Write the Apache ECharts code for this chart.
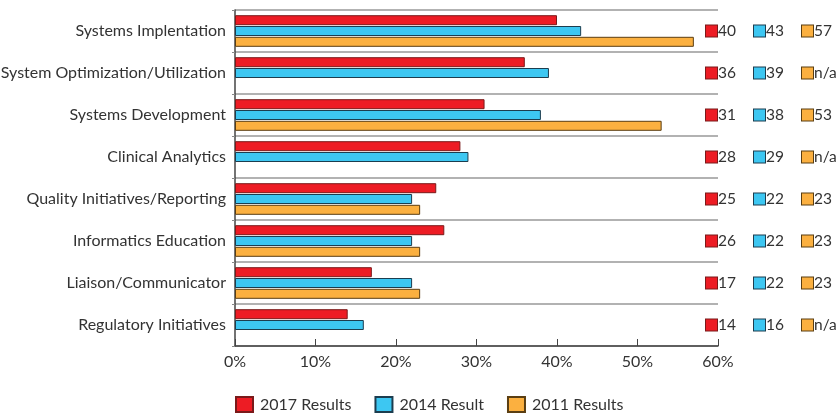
<!DOCTYPE html>
<html><head><meta charset="utf-8">
<script src="https://cdn.jsdelivr.net/npm/echarts@6/dist/echarts.min.js"></script>
<style>html,body{margin:0;padding:0;background:#fff}#c{width:837px;height:414px}</style>
</head><body><div id="c"></div>
<script>
const categories = ["Systems Implentation","System Optimization/Utilization","Systems Development","Clinical Analytics","Quality Initiatives/Reporting","Informatics Education","Liaison/Communicator","Regulatory Initiatives"];
const results2017 = [40,36,31,28,25,26,17,14];
const results2014 = [43,39,38,29,22,22,22,16];
const results2011 = [57,null,53,null,23,23,23,null];
const xTicks = [0,10,20,30,40,50,60];
const seriesNames = ["2017 Results","2014 Result","2011 Results"];

const COLORS = ["#ed1c24","#3dc7f2","#fbb040"];
const BORDERS = ["#7a1a1a","#1c3d4f","#5a3e12"];
const FONT = "Lato";

const chart = echarts.init(document.getElementById('c'), null, {renderer:'canvas'});
const fmtSide = (v, i) => {
  const f = x => (x === null || x === undefined) ? 'n/a' : String(x);
  return '{r| }{v|' + f(results2017[i]) + '}{b| }{v|' + f(results2014[i]) + '}{o| }{v|' + f(results2011[i]) + '}';
};
const sq = (i) => ({width:11, height:11, backgroundColor:COLORS[i], borderColor:BORDERS[i], borderWidth:1});
const data = [results2017, results2014, results2011];
chart.setOption({
  animation:false,
  textStyle:{fontFamily:FONT},
  grid:{left:235, right:119, top:10, bottom:68, containLabel:false, outerBoundsMode:'none'},
  legend:{
    bottom:1, left:235, padding:0, itemWidth:17, itemHeight:15, itemGap:23, icon:'rect',
    textStyle:{fontFamily:FONT, fontSize:16, color:'#333', padding:[0,0,0,2]},
    data: seriesNames
  },
  xAxis:{
    type:'value', min:0, max:60, interval:10,
    axisLine:{show:true, lineStyle:{color:'#444', width:1.5}},
    axisTick:{show:true, inside:true, length:7, lineStyle:{color:'#444'}},
    splitLine:{show:false},
    axisLabel:{formatter: v => xTicks.includes(v) ? v + '%' : '', fontSize:16, color:'#333', margin:8, fontFamily:FONT}
  },
  yAxis:[{
    type:'category', data:categories, inverse:true,
    axisLine:{show:true, lineStyle:{color:'#444', width:1.5}},
    axisTick:{show:true, length:3, lineStyle:{color:'#888'}},
    splitLine:{show:true, lineStyle:{color:'#999', width:1.5}},
    axisLabel:{fontSize:16, color:'#333', margin:9, fontFamily:FONT}
  },{
    type:'category', data:categories, inverse:true, position:'right',
    axisLine:{show:false}, axisTick:{show:false}, splitLine:{show:false},
    axisLabel:{margin:-12, formatter: fmtSide, fontFamily:FONT,
      rich:{
        r:sq(0), b:sq(1), o:sq(2),
        v:{fontSize:15.5, color:'#333', width:36, padding:[0,0,0,1], fontFamily:FONT}
      }}
  }],
  series: seriesNames.map((n,i)=>({
    name:n, type:'bar', data:data[i], barWidth:10, barGap:'8%', barCategoryGap:'25%',
    itemStyle:{color:COLORS[i], borderColor:BORDERS[i], borderWidth:1}
  }))
});
</script></body></html>
